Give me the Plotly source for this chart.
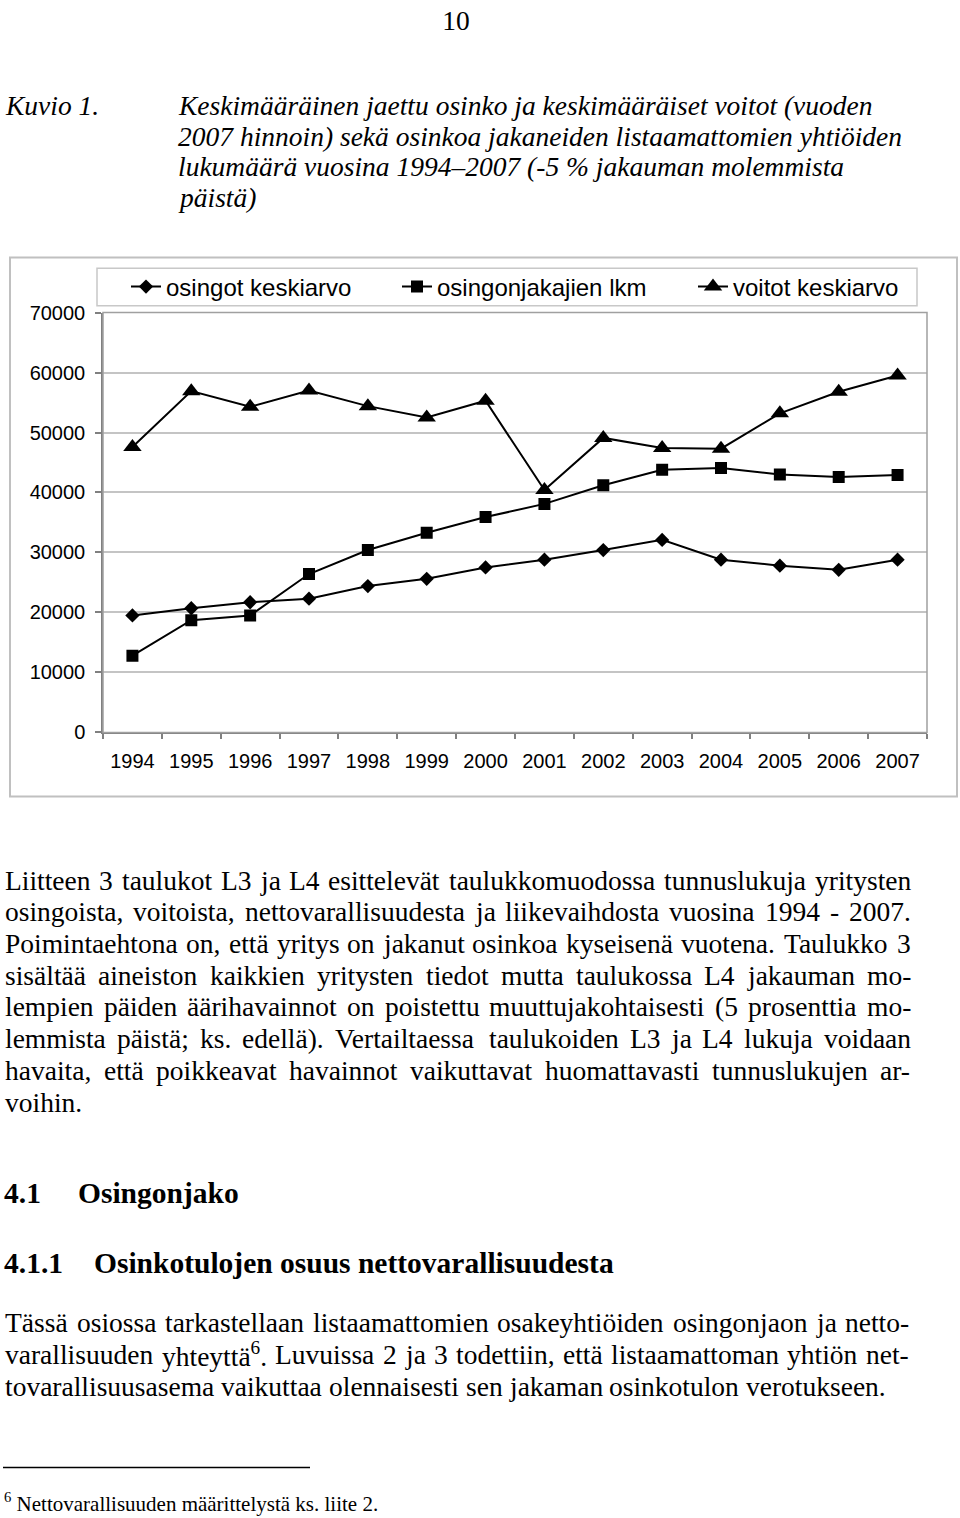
import re
import plotly.graph_objects as go

# ---------------- data ----------------
years = [str(y) for y in range(1994, 2008)]
osingot_keskiarvo = [19500, 20700, 21700, 22300, 24400, 25600, 27500, 28800, 30400, 32100, 28800, 27800, 27100, 28800]
osingonjakajien_lkm = [12800, 18700, 19500, 26400, 30400, 33300, 35900, 38100, 41200, 43800, 44100, 43000, 42600, 42900]
voitot_keskiarvo = [47600, 56900, 54300, 57000, 54400, 52500, 55300, 40400, 49100, 47400, 47300, 53200, 56800, 59500]
y_ticks = [0, 10000, 20000, 30000, 40000, 50000, 60000, 70000]
series_names = ["osingot keskiarvo", "osingonjakajien lkm", "voitot keskiarvo"]

page_number = "10"
caption_label = "Kuvio 1."
caption_lines = [
    "Keskimääräinen jaettu osinko ja keskimääräiset voitot (vuoden",
    "2007 hinnoin) sekä osinkoa jakaneiden listaamattomien yhtiöiden",
    "lukumäärä vuosina 1994–2007 (-5 % jakauman molemmista",
    "päistä)",
]
para1_lines = [
    "Liitteen 3 taulukot L3 ja L4 esittelevät taulukkomuodossa tunnuslukuja yritysten",
    "osingoista, voitoista, nettovarallisuudesta ja liikevaihdosta vuosina 1994 - 2007.",
    "Poimintaehtona on, että yritys on jakanut osinkoa kyseisenä vuotena. Taulukko 3",
    "sisältää aineiston kaikkien yritysten tiedot mutta taulukossa L4 jakauman mo-",
    "lempien päiden äärihavainnot on poistettu muuttujakohtaisesti (5 prosenttia mo-",
    "lemmista päistä; ks. edellä). Vertailtaessa taulukoiden L3 ja L4 lukuja voidaan",
    "havaita, että poikkeavat havainnot vaikuttavat huomattavasti tunnuslukujen ar-",
    "voihin.",
]
heading1 = ("4.1", "Osingonjako")
heading2 = ("4.1.1", "Osinkotulojen osuus nettovarallisuudesta")
para2_lines = [
    "Tässä osiossa tarkastellaan listaamattomien osakeyhtiöiden osingonjaon ja netto-",
    "varallisuuden yhteyttä<sup>6</sup>. Luvuissa 2 ja 3 todettiin, että listaamattoman yhtiön net-",
    "tovarallisuusasema vaikuttaa olennaisesti sen jakaman osinkotulon verotukseen.",
]
footnote = "<sup>6</sup> Nettovarallisuuden määrittelystä ks. liite 2."

# ---------------- helpers ----------------
W, H = 960, 1518
def px(x):
    return x / W
def py(y):
    return 1 - y / H

SERIF = "Liberation Serif"
SANS = "Liberation Sans"

TIMES = {' ': 250, '!': 333, '(': 333, ')': 333, ',': 250, '-': 333, '.': 250, ';': 278, ':': 278,
         '%': 833, '–': 500}
for d in "0123456789":
    TIMES[d] = 500
TIMES.update({'A': 722, 'B': 667, 'C': 667, 'D': 722, 'E': 611, 'F': 556, 'G': 722, 'H': 722, 'I': 333,
              'J': 389, 'K': 722, 'L': 611, 'M': 889, 'N': 722, 'O': 722, 'P': 556, 'Q': 722, 'R': 667,
              'S': 556, 'T': 611, 'U': 722, 'V': 722, 'W': 944, 'X': 722, 'Y': 722, 'Z': 611,
              'a': 444, 'b': 500, 'c': 444, 'd': 500, 'e': 444, 'f': 333, 'g': 500, 'h': 500, 'i': 278,
              'j': 278, 'k': 500, 'l': 278, 'm': 778, 'n': 500, 'o': 500, 'p': 500, 'q': 500, 'r': 333,
              's': 389, 't': 278, 'u': 500, 'v': 500, 'w': 722, 'x': 500, 'y': 500, 'z': 444,
              'ä': 444, 'ö': 500, 'å': 444, 'Ä': 722, 'Ö': 722})

def word_width(word, size):
    total = 0.0
    for part in re.split(r'(<sup>.*?</sup>)', word):
        if part.startswith('<sup>'):
            inner = part[5:-6]
            total += 0.7 * sum(TIMES.get(c, 500) for c in inner)
        else:
            total += sum(TIMES.get(c, 500) for c in part)
    return total * size / 1000.0

annotations = []
def text(t, x, y, size, family=SERIF, xanchor="left", yanchor="middle", borderpad=1):
    annotations.append(dict(text=t, x=px(x), y=py(y), xref="paper", yref="paper",
                            xanchor=xanchor, yanchor=yanchor, showarrow=False, borderpad=borderpad,
                            font=dict(family=family, size=size, color="black")))

def justified(line, y, left, right, size, justify=True):
    words = line.split(' ')
    widths = [word_width(w, size) for w in words]
    if justify and len(words) > 1:
        gap = (right - left - sum(widths)) / (len(words) - 1)
    else:
        gap = 250 * size / 1000.0
    x = left
    for w, wd in zip(words, widths):
        text(w, x, y, size)
        x += wd + gap

BODY = 27.5

# ---------------- figure ----------------
fig = go.Figure()
symbols = ["diamond", "square", "triangle-up"]
sizes = [11, 12, 16]
data = [osingot_keskiarvo, osingonjakajien_lkm, voitot_keskiarvo]
legends = ["legend", "legend2", "legend3"]
for name, vals, sym, sz, lg in zip(series_names, data, symbols, sizes, legends):
    fig.add_trace(go.Scatter(x=years, y=vals, mode="lines+markers", name=name,
                             line=dict(color="black", width=2),
                             marker=dict(symbol=sym, size=sz, color="black"),
                             legend=lg))

legend_text_starts = [166, 437, 733]
leg_common = dict(orientation="h", yanchor="middle", y=py(280), xanchor="left",
                  bgcolor="rgba(0,0,0,0)", borderwidth=0,
                  font=dict(family=SANS, size=24, color="black"))
fig.update_layout(
    legend=dict(x=px(legend_text_starts[0] - 40), **leg_common),
    legend2=dict(x=px(legend_text_starts[1] - 40), **leg_common),
    legend3=dict(x=px(legend_text_starts[2] - 40), **leg_common),
)

fig.update_xaxes(type="category", range=[-0.5, 13.5], domain=[px(103), px(927)],
                 tickson="boundaries", ticks="outside", ticklen=5, tickcolor="#808080", tickwidth=1.5,
                 showline=True, linecolor="#808080", linewidth=1.5, showgrid=False,
                 tickfont=dict(family=SANS, size=20, color="black"), ticklabelstandoff=10,
                 fixedrange=True)
fig.update_yaxes(range=[0, 70000], domain=[py(732), py(306)], tickvals=y_ticks, tickformat="d",
                 ticks="outside", ticklen=6, tickcolor="#808080", tickwidth=1.5,
                 showline=True, linecolor="#808080", linewidth=1.5,
                 showgrid=True, gridcolor="#c4c4c4", gridwidth=1.5, zeroline=False,
                 tickfont=dict(family=SANS, size=20, color="black"), ticklabelstandoff=6,
                 fixedrange=True)

shapes = [
    # plot area border
    dict(type="rect", xref="x domain", yref="y domain", x0=0, x1=1, y0=0, y1=1,
         line=dict(color="#a0a0a0", width=1.5)),
    # outer chart border
    dict(type="rect", xref="paper", yref="paper", x0=px(10), x1=px(957), y0=py(797), y1=py(250),
         line=dict(color="#c0c0c0", width=2)),
    # legend box
    dict(type="rect", xref="paper", yref="paper", x0=px(97), x1=px(917), y0=py(299), y1=py(261),
         line=dict(color="#c8c8c8", width=1.5)),
    # footnote rule
    dict(type="line", xref="paper", yref="paper", x0=px(3), x1=px(310), y0=py(1478), y1=py(1478),
         line=dict(color="black", width=1.5)),
]

# caption
text("<i>" + caption_label + "</i>", 3, 96, BODY)
for i, ln in enumerate(caption_lines):
    text("<i>" + ln + "</i>", 176, 96 + 31 * i, BODY)

# paragraph 1
for i, ln in enumerate(para1_lines):
    justified(ln, 882 + 32.15 * i, 3, 909, BODY, justify=(i < len(para1_lines) - 1))

# headings
text("<b>" + heading1[0] + "</b>", 2, 1199, 29.5)
text("<b>" + heading1[1] + "</b>", 76, 1199, 29.5)
text("<b>" + heading2[0] + "</b>", 2, 1270, 29.5)
text("<b>" + heading2[1] + "</b>", 92, 1270, 29.5)

# paragraph 2
for i, ln in enumerate(para2_lines):
    justified(ln, 1331 + 32.5 * i, 3, 907, BODY, justify=(i < len(para2_lines) - 1))

# footnote
text(footnote, 2, 1513, 21)

fig.update_layout(width=W, height=H, margin=dict(l=0, r=0, t=0, b=0),
                  paper_bgcolor="white", plot_bgcolor="white",
                  font=dict(family=SANS, color="black"),
                  title=dict(text=page_number, x=px(456), xanchor="center", xref="paper",
                             y=1, yref="paper", yanchor="top", pad=dict(t=0, b=0, l=0, r=0),
                             font=dict(family=SERIF, size=BODY, color="black")),
                  shapes=shapes, annotations=annotations, showlegend=True)

fig.write_html("out.html")
